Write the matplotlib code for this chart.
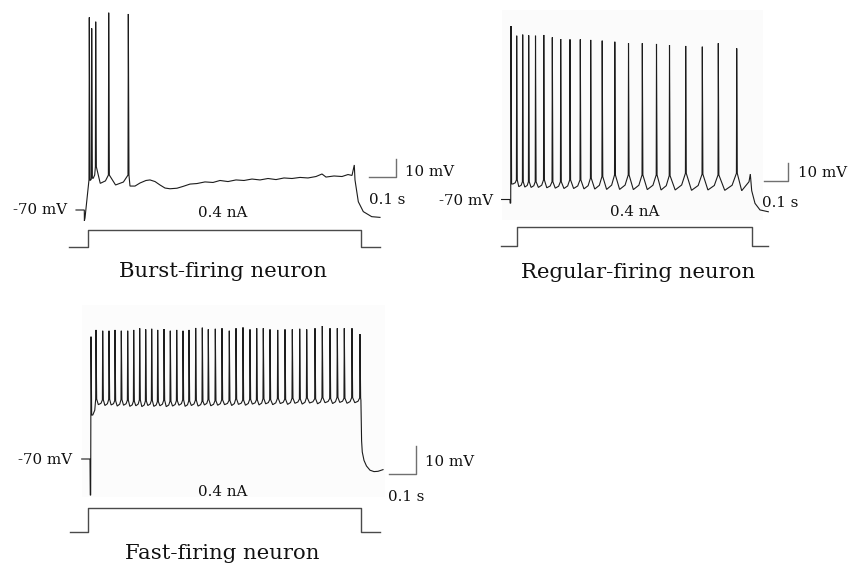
import numpy as np
import matplotlib
matplotlib.use("Agg")
import matplotlib.pyplot as plt
from matplotlib.patches import Rectangle

# ---------------- DATA (time in s from trace onset, voltage in mV) ----------------
# Burst-firing neuron
burst_onset_t = [-0.0305, 0.0, 0.0003, 0.0026]
burst_onset_v = [-70.0, -70.0, -76.0, -74.4]
burst_spike_t = [0.0184, 0.0272, 0.0419, 0.0897, 0.1618]
burst_spike_peak = [37.0, 30.9, 34.6, 39.6, 38.9]
burst_spike_base = [-53.3, -52.2, -46.0, -50.6, -50.6]
burst_isi_ahp = [-53.5, -52.5, -55.2, -56.1]
burst_offset_t = [0.168, 0.1864, 0.2048, 0.2268, 0.2415, 0.26, 0.2783, 0.2967, 0.315, 0.3408,
                  0.3629, 0.3886, 0.4143, 0.4437, 0.4732, 0.4989, 0.5283, 0.5577, 0.5871, 0.6165,
                  0.646, 0.6754, 0.7048, 0.7342, 0.7636, 0.793, 0.8224, 0.8518, 0.8739, 0.8886,
                  0.918, 0.9474, 0.9695, 0.9842, 0.9926, 0.9952, 1.0074, 1.0257, 1.0566, 1.0871]
burst_offset_v = [-56.7, -56.7, -55.0, -53.6, -53.3, -54.2, -56.1, -57.8, -58.2, -57.9,
                  -56.9, -55.6, -55.3, -54.4, -54.7, -53.6, -54.2, -53.3, -53.6, -52.8,
                  -53.3, -52.5, -53.1, -52.2, -52.5, -51.9, -52.2, -51.4, -50.0, -51.7,
                  -51.1, -51.4, -50.3, -50.8, -45.0, -53.3, -65.4, -70.9, -73.7, -74.1]

# Regular-firing neuron
reg_onset_t = [-0.035, 0.0, 0.0005]
reg_onset_v = [-70.0, -70.0, -72.0]
reg_spike_t = [0.0042, 0.0279, 0.0529, 0.0779, 0.1063, 0.1408, 0.1763, 0.2113, 0.25, 0.2929,
               0.3363, 0.3842, 0.4367, 0.4938, 0.5513, 0.6104, 0.6646, 0.7321, 0.8013, 0.8679,
               0.9446]
reg_spike_peak = [24.8, 19.5, 20.1, 19.7, 19.5, 19.9, 18.6, 17.7, 17.5, 17.5,
                  17.2, 16.8, 16.2, 15.4, 15.4, 15.0, 14.4, 13.9, 13.5, 15.4,
                  12.6]
reg_spike_base = [-72.0, -59.3, -60.3, -60.3, -60.3, -59.3, -60.3, -60.3, -59.3, -59.3,
                  -58.4, -57.5, -56.6, -56.6, -56.6, -56.6, -57.0, -55.7, -56.2, -56.6,
                  -55.7]
reg_isi_ahp = [-61.5, -63.0, -63.2, -63.4, -63.4, -63.6, -63.8, -64.0, -64.0, -64.2,
               -64.3, -64.5, -64.5, -64.6, -64.6, -64.8, -64.8, -65.0, -64.8, -65.0]
reg_offset_t = [0.9654, 0.9958, 1.0013, 1.0071, 1.0208, 1.0417, 1.0763]
reg_offset_v = [-65.2, -60.3, -56.1, -65.2, -72.1, -75.7, -76.7]

# Fast-firing neuron
fast_onset_t = [-0.0305, 0.0, 0.001]
fast_onset_v = [-70.0, -70.0, -82.9]
fast_spike_t = [0.0037, 0.0221, 0.0467, 0.0699, 0.0919, 0.1151, 0.1386, 0.1607, 0.1827, 0.2048,
                0.2268, 0.2489, 0.2721, 0.2952, 0.3188, 0.3419, 0.364, 0.3886, 0.4129, 0.4349,
                0.4607, 0.4853, 0.5121, 0.5368, 0.5625, 0.5882, 0.6129, 0.6371, 0.6618, 0.6901,
                0.7169, 0.7438, 0.771, 0.7967, 0.8272, 0.854, 0.8824, 0.9092, 0.9349, 0.9632,
                0.9926]
fast_spike_peak = [-26.3, -23.9, -24.2, -24.2, -23.9, -24.2, -24.2, -23.9, -23.3, -23.7,
                   -23.5, -23.9, -23.6, -24.2, -23.9, -24.2, -23.9, -23.2, -23.1, -23.7,
                   -23.5, -23.3, -24.2, -23.3, -23.0, -23.7, -23.3, -23.3, -23.7, -23.9,
                   -23.7, -23.7, -23.5, -23.7, -23.3, -22.5, -23.3, -23.3, -23.3, -23.3,
                   -25.4]
fast_spike_base = [-82.9, -48.6, -48.9, -48.7, -49.2, -48.8, -49.0, -49.4, -48.9, -49.3,
                   -49.1, -49.5, -49.0, -49.4, -49.2, -48.9, -49.3, -49.0, -49.4, -48.8,
                   -49.2, -48.9, -49.1, -48.6, -49.0, -48.7, -48.9, -48.5, -48.8, -48.4,
                   -48.7, -48.3, -48.6, -48.2, -48.5, -48.1, -48.4, -48.0, -48.3, -48.1,
                   -48.2]
fast_isi_ahp = [-54.3, -50.6, -50.9, -50.7, -51.1, -50.8, -51.2, -51.0, -51.3, -50.9,
                -51.2, -51.0, -51.3, -51.1, -50.8, -51.2, -50.9, -51.1, -50.7, -51.0,
                -50.8, -50.6, -50.9, -50.5, -50.8, -50.4, -50.7, -50.3, -50.6, -50.2,
                -50.5, -50.1, -50.4, -50.0, -50.3, -49.9, -50.2, -49.8, -50.1, -49.9]
fast_offset_t = [0.996, 0.9985, 1.001, 1.0074, 1.0165, 1.0294, 1.0441, 1.0588, 1.0772]
fast_offset_v = [-49.0, -63.5, -67.5, -70.5, -72.5, -74.0, -74.5, -74.4, -73.8]

# Stimulus (current step)
stim_amp_nA = 0.4
stim_dur_s = 1.0
stim_pad_s = 0.068

titles = ["Burst-firing neuron", "Regular-firing neuron", "Fast-firing neuron"]
rest_label = "-70 mV"
stim_label = "0.4 nA"
vbar_label = "10 mV"
tbar_label = "0.1 s"

# ---------------- FIGURE ----------------
W, H = 849, 565
fig = plt.figure(figsize=(W / 100, H / 100), dpi=100)
fig.patch.set_facecolor("white")
SERIF = ["DejaVu Serif"]

px = fig.add_axes([0, 0, 1, 1])
px.set_xlim(0, W)
px.set_ylim(H, 0)
px.axis("off")


def mapped_axes(x0, sx, y0, v0, sy):
    """Full-figure axes: data x=0 at pixel x0 (sx px per unit); data v0 at pixel y0 (sy px per unit)."""
    ax = fig.add_axes([0, 0, 1, 1])
    ax.set_xlim((0 - x0) / sx, (W - x0) / sx)
    ax.set_ylim(v0 - (H - y0) / sy, v0 + y0 / sy)
    ax.axis("off")
    ax.patch.set_alpha(0)
    return ax


EPS = 0.0012


def build_trace(on_t, on_v, st, sp, sb, ahp, off_t, off_v):
    ts, vs = list(on_t), list(on_v)
    n = len(st)
    for i in range(n):
        t = st[i]
        ts += [t - EPS, t, t + 2 * EPS]
        vs += [sb[i], sp[i], sb[i] if i > 0 else ahp[0]]
        if i < n - 1:
            isi = st[i + 1] - t
            ts += [t + 0.35 * isi, t + 0.75 * isi]
            vs += [ahp[i], ahp[i] + 0.3 * (sb[i + 1] - ahp[i])]
    ts += list(off_t)
    vs += list(off_v)
    return np.array(ts), np.array(vs)


TRACE_KW = dict(color="#1c1c1c", lw=0.8, solid_joinstyle="miter")
BAR_KW = dict(color="#707070", lw=1.0)
STIM_KW = dict(color="#4a4a4a", lw=1.0)


def stim(ax):
    t = [-stim_pad_s, 0, 0, stim_dur_s, stim_dur_s, stim_dur_s + stim_pad_s]
    i = [0, 0, stim_amp_nA, stim_amp_nA, 0, 0]
    ax.plot(t, i, **STIM_KW)


def scalebar(ax, tc, vc):
    ax.plot([tc - 0.1, tc, tc], [vc, vc, vc + 10], **BAR_KW)


# faint backgrounds of the scanned traces
px.add_patch(Rectangle((502, 10), 261, 210, color="#fbfbfb", zorder=0, lw=0))
px.add_patch(Rectangle((82, 305), 303, 192, color="#fcfcfc", zorder=0, lw=0))

# ---- Panel 1: burst ----
a1 = mapped_axes(84.3, 272, 210, -70, 1.8)
t1, v1 = build_trace(burst_onset_t, burst_onset_v, burst_spike_t, burst_spike_peak,
                     burst_spike_base, burst_isi_ahp, burst_offset_t, burst_offset_v)
a1.plot(t1, v1, **TRACE_KW)
scalebar(a1, 1.146, -51.7)
s1 = mapped_axes(88, 273, 247, 0, 42.5)
stim(s1)

# ---- Panel 2: regular ----
a2 = mapped_axes(510, 240, 199.5, -70, 1.83)
t2, v2 = build_trace(reg_onset_t, reg_onset_v, reg_spike_t, reg_spike_peak,
                     reg_spike_base, reg_isi_ahp, reg_offset_t, reg_offset_v)
a2.plot(t2, v2, **TRACE_KW)
scalebar(a2, 1.158, -59.9)
s2 = mapped_axes(517, 235, 245.7, 0, 47.5)
stim(s2)

# ---- Panel 3: fast ----
a3 = mapped_axes(90, 272, 459, -70, 2.8)
t3, v3 = build_trace(fast_onset_t, fast_onset_v, fast_spike_t, fast_spike_peak,
                     fast_spike_base, fast_isi_ahp, fast_offset_t, fast_offset_v)
a3.plot(t3, v3, **TRACE_KW)
scalebar(a3, 1.1985, -75.5)
s3 = mapped_axes(88.3, 273, 532.3, 0, 61.5)
stim(s3)

# ---------------- TEXT ----------------
SMALL = 10.8
BIG = 15.3
TXT = "#111111"

def label(x, y, s, ha, size=SMALL, va="center"):
    px.text(x, y, s, ha=ha, va=va, fontsize=size, family=SERIF, color=TXT)

# panel 1
label(67, 210, rest_label, "right")
label(223, 213, stim_label, "center")
label(405, 172, vbar_label, "left")
label(369, 200, tbar_label, "left")
label(223, 277, titles[0], "center", BIG, "baseline")
# panel 2
label(493.5, 201, rest_label, "right")
label(635, 212, stim_label, "center")
label(798, 173, vbar_label, "left")
label(762, 203, tbar_label, "left")
label(638, 277.5, titles[1], "center", BIG, "baseline")
# panel 3
label(72, 460, rest_label, "right")
label(223, 492, stim_label, "center")
label(425, 462, vbar_label, "left")
label(388, 497, tbar_label, "left")
label(222, 559, titles[2], "center", BIG, "baseline")

fig.savefig("out.png", dpi=100, facecolor="white")
